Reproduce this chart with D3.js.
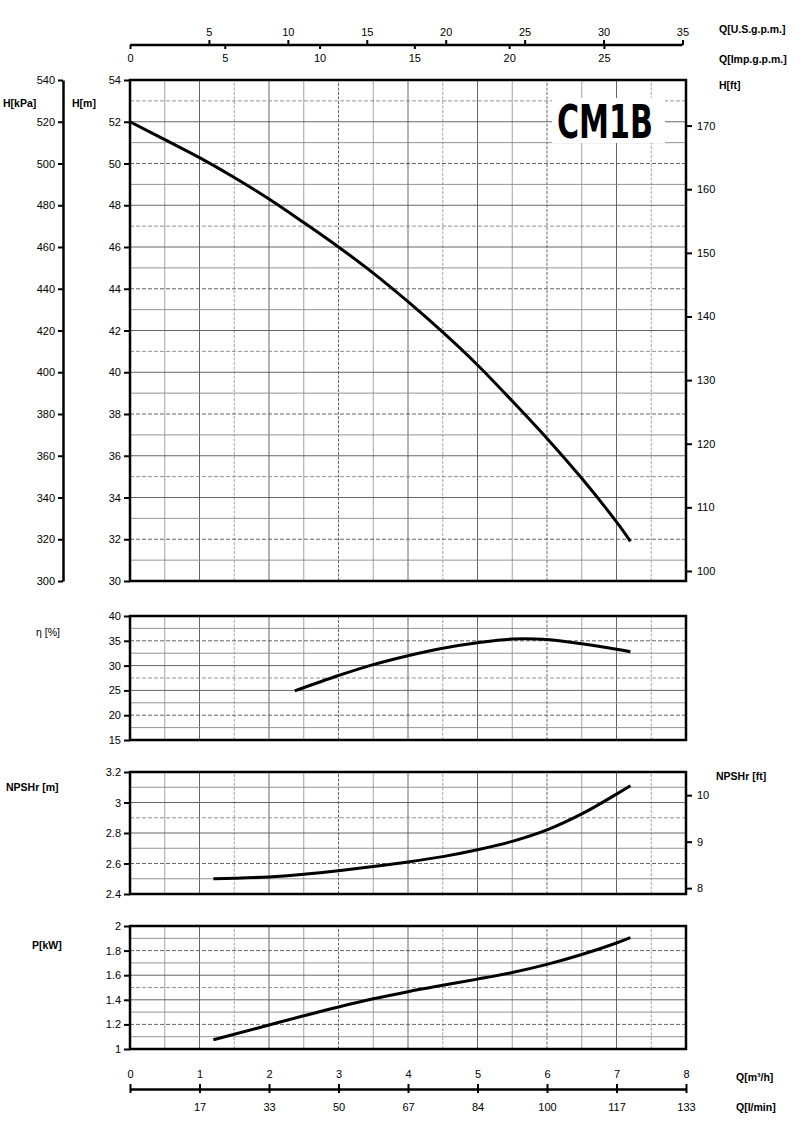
<!DOCTYPE html>
<html>
<head>
<meta charset="utf-8">
<script src="https://cdn.jsdelivr.net/npm/d3@7"></script>
<style>
  body { margin: 0; background: #fff; }
  svg { display: block; }
  text { font-family: "Liberation Sans", Arial, sans-serif; fill: #000; }
  .tick { font-size: 11px; }
  .unit { font-size: 10.5px; font-weight: bold; }
</style>
</head>
<body>
<svg id="chart" width="800" height="1124"></svg>
<script>
// flow in m3/h
var qHead  = [0, 0.5, 1, 1.5, 2, 2.5, 3, 3.5, 4, 4.5, 5, 5.5, 6, 6.5, 7, 7.2];
var head   = [52, 51.14, 50.28, 49.33, 48.3, 47.17, 46.0, 44.75, 43.38, 41.92, 40.35, 38.62, 36.83, 34.92, 32.83, 31.9];

var qEff   = [2.37, 3, 3.5, 4, 4.5, 5, 5.5, 6, 6.5, 7, 7.2];
var eff    = [24.9, 28.0, 30.2, 32.0, 33.5, 34.6, 35.35, 35.25, 34.4, 33.3, 32.8];

var qNpsh  = [1.2, 1.5, 2, 2.5, 3, 3.5, 4, 4.5, 5, 5.5, 6, 6.5, 7, 7.2];
var npsh   = [2.5, 2.503, 2.512, 2.53, 2.553, 2.58, 2.61, 2.645, 2.69, 2.745, 2.82, 2.925, 3.055, 3.11];

var qPow   = [1.2, 1.5, 2, 2.5, 3, 3.5, 4, 4.5, 5, 5.5, 6, 6.5, 7, 7.2];
var power  = [1.075, 1.12, 1.195, 1.27, 1.342, 1.408, 1.466, 1.518, 1.568, 1.622, 1.688, 1.768, 1.862, 1.905];

var qTicks      = [0, 1, 2, 3, 4, 5, 6, 7, 8];
var lminLabels  = ["", "17", "33", "50", "67", "84", "100", "117", "133"];
var usTicks     = [5, 10, 15, 20, 25, 30, 35];
var impTicks    = [0, 5, 10, 15, 20, 25];
var hTicks      = [30, 32, 34, 36, 38, 40, 42, 44, 46, 48, 50, 52, 54];
var kpaTicks    = [300, 320, 340, 360, 380, 400, 420, 440, 460, 480, 500, 520, 540];
var ftTicks     = [100, 110, 120, 130, 140, 150, 160, 170];
var effTicks    = [15, 20, 25, 30, 35, 40];
var npshTicks   = [2.4, 2.6, 2.8, 3, 3.2];
var npshFtTicks = [8, 9, 10];
var powTicks    = [1, 1.2, 1.4, 1.6, 1.8, 2];

var M_TO_FT = 3.2808, M3H_TO_US = 4.4029, M3H_TO_IMP = 3.6662;

var svg = d3.select("#chart");

var x = d3.scaleLinear().domain([0, 8]).range([130, 686]);
var xUS = d3.scaleLinear().domain([0, 8 * M3H_TO_US]).range([130, 686]);
var xImp = d3.scaleLinear().domain([0, 8 * M3H_TO_IMP]).range([130, 686]);

var yH = d3.scaleLinear().domain([30, 54]).range([581, 80]);
var yKpa = d3.scaleLinear().domain([300, 540]).range([581, 80]);
var yFt = d3.scaleLinear().domain([30 * M_TO_FT, 54 * M_TO_FT]).range([581, 80]);
var yE = d3.scaleLinear().domain([15, 40]).range([740, 616]);
var yN = d3.scaleLinear().domain([2.4, 3.2]).range([894, 772]);
var yNft = d3.scaleLinear().domain([2.4 * M_TO_FT, 3.2 * M_TO_FT]).range([894, 772]);
var yP = d3.scaleLinear().domain([1, 2]).range([1049, 926]);

function styleAxis(g){
    g.select(".domain").attr("stroke", "#000").attr("stroke-width", 2.5);
    g.selectAll(".tick line").attr("stroke", "#000").attr("stroke-width", 2);
    g.selectAll(".tick text").attr("class", "tick").style("font-size", "11px")
      .style("font-family", "'Liberation Sans', Arial, sans-serif");
}

// one panel: grid, curve, border, left axis
function panel(y, hStep, ticks, fmt, qs, vs){
    var y0 = y.range()[0], y1 = y.range()[1];
    var dom = y.domain();
    var g = svg.append("g");

    //vertical grid every 0.5 m3/h
    g.selectAll(".vg").data(d3.range(0.5, 8, 0.5)).enter().append("line")
	.attr("x1", x).attr("x2", x).attr("y1", y0).attr("y2", y1)
	.attr("stroke", function(d,i){ return i % 2 ? "#555" : "#999"; })
	.attr("stroke-width", 0.9)
	.attr("stroke-dasharray", function(d,i){ return (i % 3 == 2) ? "3,1.5" : null; });

    //horizontal grid
    var n = Math.round((dom[1] - dom[0]) / hStep);
    var hv = d3.range(1, n).map(function(i){ return dom[0] + i * hStep; });
    g.selectAll(".hg").data(hv).enter().append("line")
	.attr("x1", 130).attr("x2", 686).attr("y1", y).attr("y2", y)
	.attr("stroke", function(d,i){ return i % 2 ? "#555" : "#888"; })
	.attr("stroke-width", 0.9)
	.attr("stroke-dasharray", function(d,i){ return (i % 3 == 1) ? "4,2" : null; });

    var line = d3.line()
	.x(function(d){ return x(d[0]); })
	.y(function(d){ return y(d[1]); })
	.curve(d3.curveCatmullRom.alpha(0.5));
    var pts = qs.map(function(q,i){ return [q, vs[i]]; });

    g.append("path").attr("class", "curve")
	.attr("d", line(pts))
	.attr("fill", "none").attr("stroke", "#000").attr("stroke-width", 3);

    g.append("rect")
	.attr("x", 130).attr("y", y1).attr("width", 556).attr("height", y0 - y1)
	.attr("fill", "none").attr("stroke", "#000").attr("stroke-width", 2.5);

    var ax = svg.append("g").attr("transform", "translate(130,0)")
	.call(d3.axisLeft(y).tickValues(ticks).tickSize(6).tickPadding(3).tickFormat(fmt));
    styleAxis(ax);
    ax.select(".domain").remove();
    return g;
}

var mainG = panel(yH, 1, hTicks, d3.format("d"), qHead, head);
panel(yE, 2.5, effTicks, d3.format("d"), qEff, eff);
panel(yN, 0.1, npshTicks, function(d){ return d3.format("~g")(d); }, qNpsh, npsh);
panel(yP, 0.1, powTicks, function(d){ return d3.format("~g")(d); }, qPow, power);

// model name box
mainG.insert("rect", ".curve")
    .attr("x", 552).attr("y", 98).attr("width", 113).attr("height", 45).attr("fill", "#fff");
mainG.append("text")
    .attr("x", 557).attr("y", 138)
    .attr("textLength", 96).attr("lengthAdjust", "spacingAndGlyphs")
    .style("font-family", "'DejaVu Sans Condensed', 'Liberation Sans', sans-serif")
    .style("font-size", "47px").style("font-weight", "bold")
    .text("CM1B");

// kPa axis
var kpa = svg.append("g").attr("transform", "translate(63,0)")
    .call(d3.axisLeft(yKpa).tickValues(kpaTicks).tickSize(5).tickPadding(3).tickSizeOuter(0));
styleAxis(kpa);

// ft axis for head
var ft = svg.append("g").attr("transform", "translate(686,0)")
    .call(d3.axisRight(yFt).tickValues(ftTicks).tickSize(6).tickPadding(5));
styleAxis(ft);
ft.select(".domain").remove();

// ft axis for NPSH
var nft = svg.append("g").attr("transform", "translate(686,0)")
    .call(d3.axisRight(yNft).tickValues(npshFtTicks).tickSize(6).tickPadding(5).tickFormat(d3.format("d")));
styleAxis(nft);
nft.select(".domain").remove();

// top flow axes
var us = svg.append("g").attr("transform", "translate(0,45)")
    .call(d3.axisTop(xUS).tickValues(usTicks).tickSize(5).tickPadding(4).tickSizeOuter(0));
styleAxis(us);
us.select(".domain").attr("d", "M130,0H" + xUS(35));
var imp = svg.append("g").attr("transform", "translate(0,45)")
    .call(d3.axisBottom(xImp).tickValues(impTicks).tickSize(4).tickPadding(5).tickSizeOuter(0));
styleAxis(imp);
imp.select(".domain").remove();

// bottom flow axes
var qm = svg.append("g").attr("transform", "translate(0,1089)")
    .call(d3.axisTop(x).tickValues(qTicks).tickSize(5).tickPadding(6).tickSizeOuter(0));
styleAxis(qm);
var ql = svg.append("g").attr("transform", "translate(0,1089)")
    .call(d3.axisBottom(x).tickValues(qTicks).tickSize(4).tickPadding(10)
	  .tickFormat(function(d,i){ return lminLabels[i]; }));
styleAxis(ql);
ql.select(".domain").remove();

// unit labels
var units = [
    ["H[kPa]", 3, 107, "bold"],
    ["H[m]", 72, 107, "bold"],
    ["Q[U.S.g.p.m.]", 719, 33, "bold"],
    ["Q[Imp.g.p.m.]", 719, 63, "bold"],
    ["H[ft]", 719, 89, "bold"],
    ["\u03b7 [%]", 36, 636, "normal"],
    ["NPSHr [m]", 6, 791, "bold"],
    ["NPSHr [ft]", 716, 780, "bold"],
    ["P[kW]", 32, 949, "bold"],
    ["Q[m\u00b3/h]", 736, 1081, "bold"],
    ["Q[l/min]", 736, 1111, "bold"]
];
svg.selectAll(".unit").data(units).enter().append("text")
    .attr("class", "unit")
    .attr("x", function(d){ return d[1]; })
    .attr("y", function(d){ return d[2]; })
    .style("font-weight", function(d){ return d[3]; })
    .text(function(d){ return d[0]; });
</script>
</body>
</html>
